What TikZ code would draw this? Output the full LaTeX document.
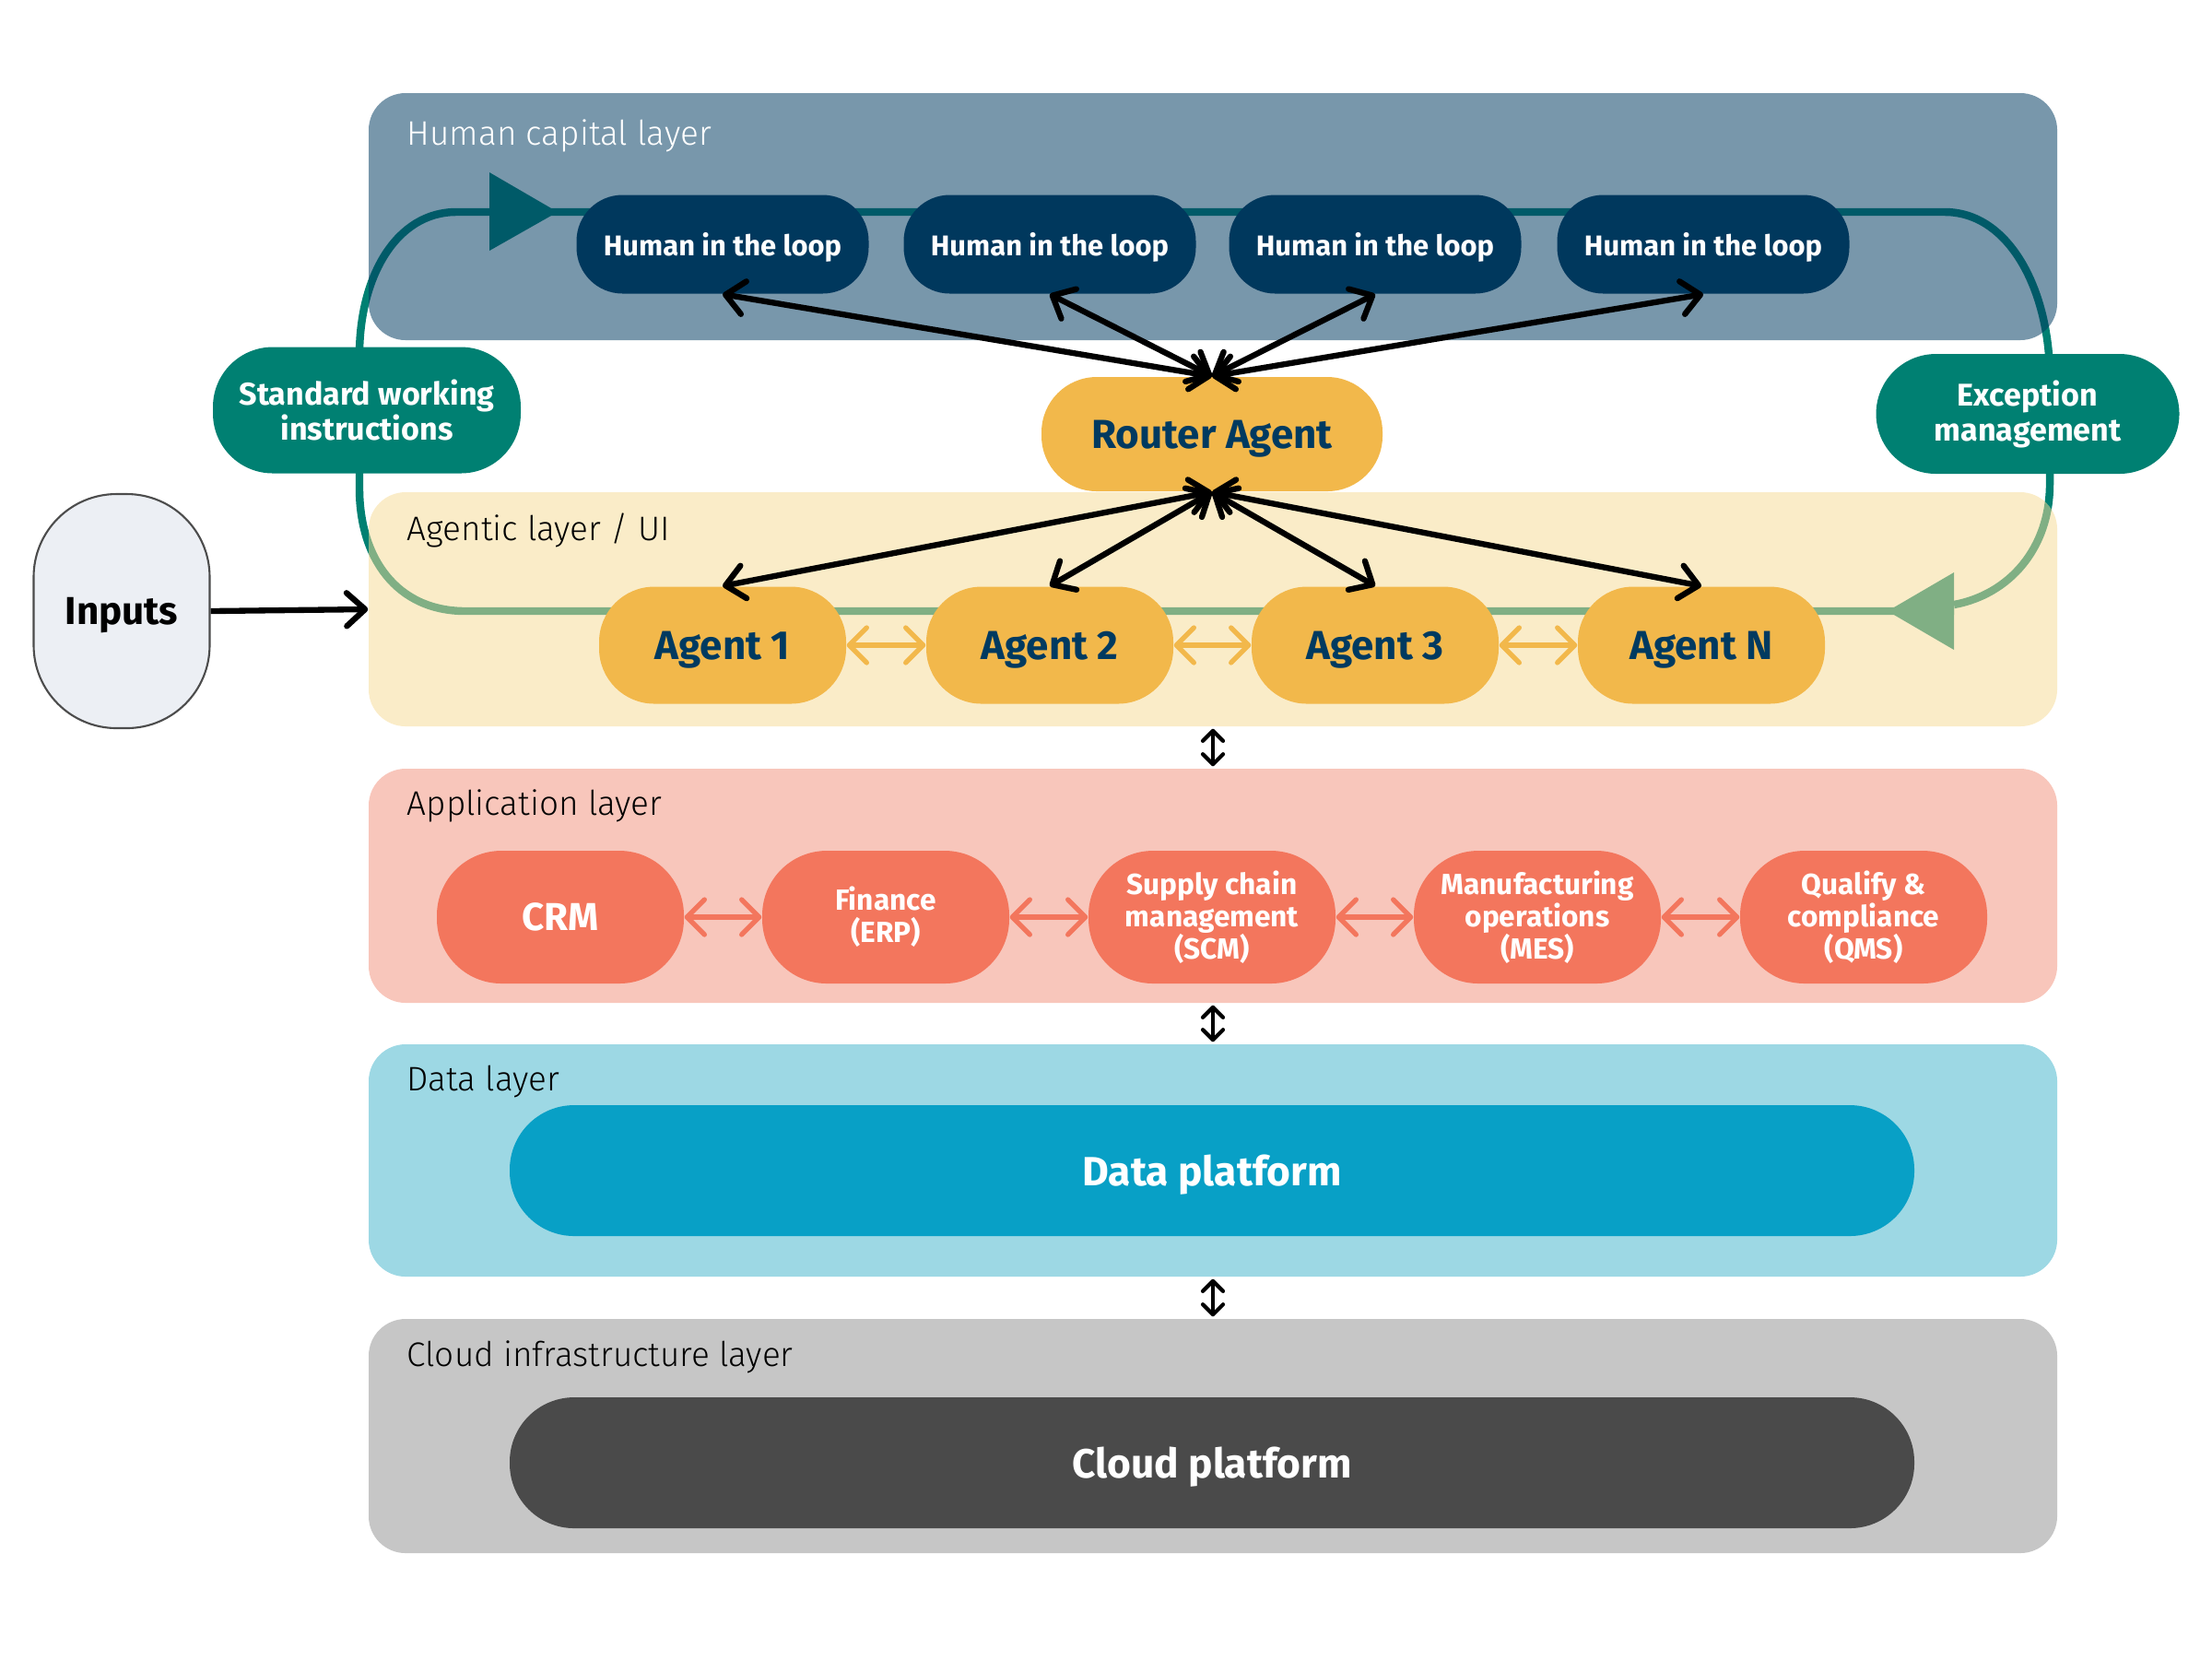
\documentclass[tikz,border=0pt]{standalone}
\usepackage{fontspec}
\setmainfont{Fira Sans}
\newfontfamily\layerfont{Fira Sans Light}
\usetikzlibrary{arrows.meta}

\definecolor{hitlblue}{RGB}{0,56,93}
\definecolor{agentgold}{RGB}{242,184,75}
\definecolor{agenttext}{RGB}{0,58,96}
\definecolor{loopteal}{RGB}{0,128,114}
\definecolor{humanlayer}{RGB}{0,58,96}
\definecolor{agenticlayer}{RGB}{246,219,150}
\definecolor{applayer}{RGB}{248,198,187}
\definecolor{appsalmon}{RGB}{243,118,93}
\definecolor{datalayer}{RGB}{157,216,228}
\definecolor{datablue}{RGB}{8,160,198}
\definecolor{cloudlayer}{RGB}{198,198,198}
\definecolor{clouddark}{RGB}{74,74,74}
\definecolor{inputfill}{RGB}{236,239,244}

\begin{document}
\begin{tikzpicture}[
  layerbox/.style={rounded corners=4mm, minimum width=18.32cm, minimum height=#1, inner sep=0pt},
  layerlabel/.style={anchor=west, inner sep=0pt, font=\layerfont\fontsize{10.5}{12}\selectfont},
  human/.style={fill=hitlblue, text=white, rounded corners=5mm, minimum width=3.17cm, minimum height=1.07cm, text depth=0pt, font=\bfseries\fontsize{8.8}{10}\selectfont},
  agent/.style={fill=agentgold, text=agenttext, rounded corners=6mm, minimum width=2.68cm, minimum height=1.27cm, text depth=0pt, font=\bfseries\fontsize{12.5}{14}\selectfont},
  process/.style={fill=loopteal, text=white, rounded corners=6.5mm, align=center, font=\bfseries\fontsize{9.7}{10.8}\selectfont},
  app/.style={fill=appsalmon, text=white, rounded corners=7mm, minimum width=2.68cm, minimum height=1.44cm, align=center, font=\bfseries\fontsize{9}{10}\selectfont},
  platform/.style={fill=#1, text=white, rounded corners=7mm, minimum width=15.24cm, minimum height=1.42cm, text depth=0pt, font=\bfseries\fontsize{12.6}{14}\selectfont},
  link/.style={<->, >={Straight Barb[length=2mm,width=3.6mm,round]}, line width=1.8pt},
  peer/.style={<->, >={Straight Barb[length=1.9mm,width=3.8mm,round]}, line width=1.5pt, draw=#1},
  stack/.style={<->, >={Straight Barb[length=1.1mm,width=2.2mm,round]}, line width=1.2pt, shorten <=0.2mm, shorten >=0.2mm}
]
\useasboundingbox (0,0) rectangle (24,-18);

\draw[loopteal, line width=2.4pt] (21.20,-6.56) .. controls (21.80,-6.45) and (22.24,-5.95) .. (22.24,-5.25) -- (22.24,-4.10) .. controls (22.24,-3.15) and (21.80,-2.30) .. (21.10,-2.30) -- (4.95,-2.30) .. controls (4.30,-2.30) and (3.90,-3.00) .. (3.90,-3.85) -- (3.90,-5.30) .. controls (3.90,-6.05) and (4.30,-6.63) .. (5.05,-6.63) -- (21.20,-6.63);
\fill[loopteal] (5.31,-1.87) -- (6.05,-2.30) -- (5.31,-2.72) -- cycle;
\fill[loopteal] (21.20,-6.21) -- (20.48,-6.63) -- (21.20,-7.05) -- cycle;

\node[layerbox=2.68cm, fill=humanlayer, fill opacity=0.53] (humancap) at (13.16,-2.35) {};
\node[layerbox=2.54cm, fill=agenticlayer, fill opacity=0.52] (agentic) at (13.16,-6.61) {};
\node[layerbox=2.54cm, fill=applayer] (application) at (13.16,-9.61) {};
\node[layerbox=2.52cm, fill=datalayer] (data) at (13.16,-12.59) {};
\node[layerbox=2.54cm, fill=cloudlayer] (cloud) at (13.16,-15.58) {};

\node[layerlabel, text=white] (humancaplabel) at (4.41,-1.47) {Human capital layer};
\node[layerlabel] (agenticlabel) at (4.41,-5.75) {Agentic layer / UI};
\node[layerlabel] (applicationlabel) at (4.41,-8.74) {Application layer};
\node[layerlabel] (datalabel) at (4.41,-11.74) {Data layer};
\node[layerlabel] (cloudlabel) at (4.41,-14.72) {Cloud infrastructure layer};

\node[human] (h1) at (7.84,-2.65) {Human in the loop};
\node[human] (h2) at (11.39,-2.65) {Human in the loop};
\node[human] (h3) at (14.92,-2.65) {Human in the loop};
\node[human] (h4) at (18.48,-2.65) {Human in the loop};

\node[agent, minimum width=3.70cm, minimum height=1.24cm] (router) at (13.15,-4.71) {Router Agent};
\node[agent] (a1) at (7.84,-7.00) {Agent 1};
\node[agent] (a2) at (11.39,-7.00) {Agent 2};
\node[agent] (a3) at (14.92,-7.00) {Agent 3};
\node[agent] (aN) at (18.46,-7.00) {Agent N};

\node[process, minimum width=3.34cm, minimum height=1.37cm] (swi) at (3.98,-4.45) {Standard working\\instructions};
\node[process, minimum width=3.29cm, minimum height=1.30cm] (exception) at (22.00,-4.49) {Exception\\management};

\node[draw=black!70, fill=inputfill, line width=0.6pt, rounded corners=9mm, minimum width=1.91cm, minimum height=2.54cm, text depth=0pt, font=\bfseries\fontsize{12}{14}\selectfont] (inputs) at (1.32,-6.63) {Inputs};

\node[app, font=\bfseries\fontsize{12}{14}\selectfont] (crm) at (6.08,-9.95) {CRM};
\node[app] (erp) at (9.61,-9.95) {Finance\\(ERP)};
\node[app] (scm) at (13.15,-9.95) {Supply chain\\management\\(SCM)};
\node[app] (mes) at (16.68,-9.95) {Manufacturing\\operations\\(MES)};
\node[app] (qms) at (20.22,-9.95) {Qualify \&\\compliance\\(QMS)};

\node[platform=datablue] (dataplatform) at (13.15,-12.70) {Data platform};
\node[platform=clouddark] (cloudplatform) at (13.15,-15.87) {Cloud platform};

\draw[link] (router.north) -- (h1.south);
\draw[link] (router.north) -- (h2.south);
\draw[link] (router.north) -- (h3.south);
\draw[link] (router.north) -- (h4.south);
\draw[link] (router.south) -- (a1.north);
\draw[link] (router.south) -- (a2.north);
\draw[link] (router.south) -- (a3.north);
\draw[link] (router.south) -- (aN.north);
\draw[link, ->] (inputs.east) -- (agentic.west);

\draw[peer=agentgold] (a1) -- (a2);
\draw[peer=agentgold] (a2) -- (a3);
\draw[peer=agentgold] (a3) -- (aN);
\draw[peer=appsalmon] (crm) -- (erp);
\draw[peer=appsalmon] (erp) -- (scm);
\draw[peer=appsalmon] (scm) -- (mes);
\draw[peer=appsalmon] (mes) -- (qms);

\draw[stack] (agentic.south) -- (application.north);
\draw[stack] (application.south) -- (data.north);
\draw[stack] (data.south) -- (cloud.north);
\end{tikzpicture}
\end{document}
